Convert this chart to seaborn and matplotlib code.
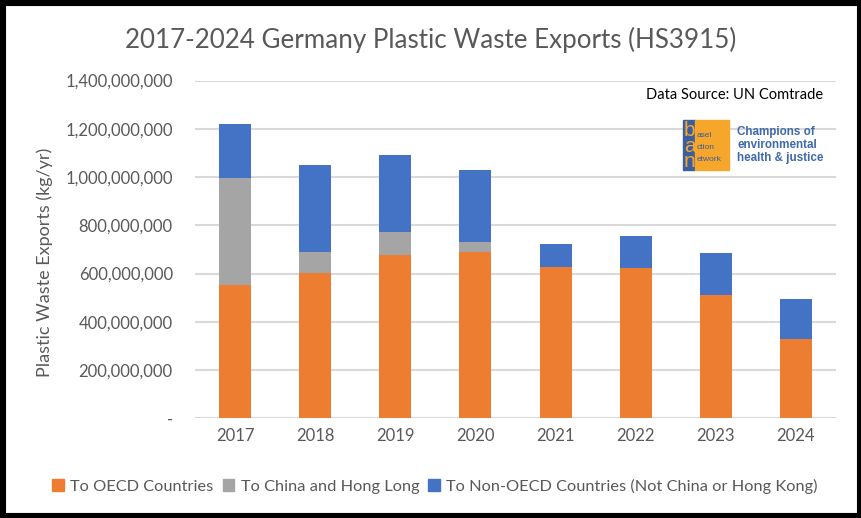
import matplotlib
matplotlib.use("Agg")
import matplotlib.pyplot as plt
import seaborn as sns
import pandas as pd
import numpy as np
from matplotlib.patches import Rectangle
from matplotlib.ticker import FuncFormatter, MultipleLocator

years = ["2017", "2018", "2019", "2020", "2021", "2022", "2023", "2024"]
oecd = [552e6, 602e6, 677e6, 690e6, 628e6, 623e6, 512e6, 330e6]
china_hk = [444e6, 87e6, 95e6, 41e6, 0, 0, 0, 0]
non_oecd = [224e6, 361e6, 319e6, 298e6, 95e6, 133e6, 174e6, 166e6]

series_names = ["To OECD Countries", "To China and Hong Long",
                "To Non-OECD Countries (Not China or Hong Kong)"]
colors = ["#ED7D31", "#A5A5A5", "#4472C4"]

df = pd.DataFrame({"year": years, "oecd": oecd, "china": china_hk, "non": non_oecd})
df["lvl1"] = df["oecd"]
df["lvl2"] = df["oecd"] + df["china"]
df["lvl3"] = df["lvl2"] + df["non"]

sns.set_theme(style="white")
plt.rcParams["font.family"] = ["Lato", "DejaVu Sans"]
TXT = "#595959"

fig = plt.figure(figsize=(8.62, 5.18), dpi=100)
ax = fig.add_axes([195/862, 1-418.3/518, (836-195)/862, (418.3-80.5)/518])

for col, c in zip(["lvl3", "lvl2", "lvl1"], colors[::-1]):
    sns.barplot(data=df, x="year", y=col, order=years, color=c, width=0.4,
                saturation=1, ax=ax, errorbar=None, zorder=3,
                linewidth=0, edgecolor="none")

ax.set_ylim(0, 1.4e9)
ax.set_xlim(-0.5, 7.5)
ax.yaxis.set_major_locator(MultipleLocator(2e8))
ax.yaxis.set_major_formatter(FuncFormatter(lambda v, p: "-" if v == 0 else f"{v:,.0f}"))
ax.grid(axis="y", color="#D9D9D9", linewidth=1.5, zorder=0)
ax.set_axisbelow(True)
for s in ax.spines.values():
    s.set_visible(False)
ax.tick_params(axis="both", length=0, labelsize=12, colors=TXT)
ax.tick_params(axis="y", pad=16)
ax.tick_params(axis="x", pad=7)
ax.set_xlabel("")
ax.set_ylabel("")

fig.text(45/862, 1-262/518, "Plastic Waste Exports (kg/yr)", rotation=90,
         ha="center", va="center", fontsize=13, color=TXT)
fig.text(431/862, 1-40/518, "2017-2024 Germany Plastic Waste Exports (HS3915)",
         ha="center", va="center", fontsize=18.7, color=TXT)
fig.text(823/862, 1-95/518, "Data Source: UN Comtrade", ha="right", va="center",
         fontsize=10.5, color="black")

# legend
handles = [Rectangle((0, 0), 1, 1, color=c) for c in colors]
fig.legend(handles, series_names, loc="center", bbox_to_anchor=(435/862, 1-486/518),
           ncol=3, frameon=False, fontsize=11.8, handlelength=0.7, handleheight=0.7,
           handletextpad=0.4, columnspacing=0.55, labelcolor=TXT)

# logo
lb = "#3A5E9E"
lo = "#F5A62B"
fig.add_artist(Rectangle((683/862, 1-170/518), 12/862, 50/518, color=lb,
                         transform=fig.transFigure))
fig.add_artist(Rectangle((695/862, 1-170/518), 34/862, 50/518, color=lo,
                         transform=fig.transFigure))
fig.text(689.5/862, 1-146/518, "b\na\nn", ha="center", va="center", ma="center",
         fontsize=15, color=lo, linespacing=0.78, family=["Liberation Sans"])
fig.text(697/862, 1-147.5/518, "asel\nction\network", ha="left", va="center",
         fontsize=6, color=lb, linespacing=2.05, family=["Liberation Sans"])
fig.text(737/862, 1-145/518, "Champions of\nenvironmental\nhealth & justice",
         ha="left", va="center", fontsize=8.4, fontweight="bold", color="#3F6BAA",
         linespacing=1.1, family=["Liberation Sans"])

# border
fig.add_artist(Rectangle((0, 0), 1, 1, fill=False, edgecolor="black", linewidth=8,
                         transform=fig.transFigure))

fig.savefig("out.png", dpi=100)
